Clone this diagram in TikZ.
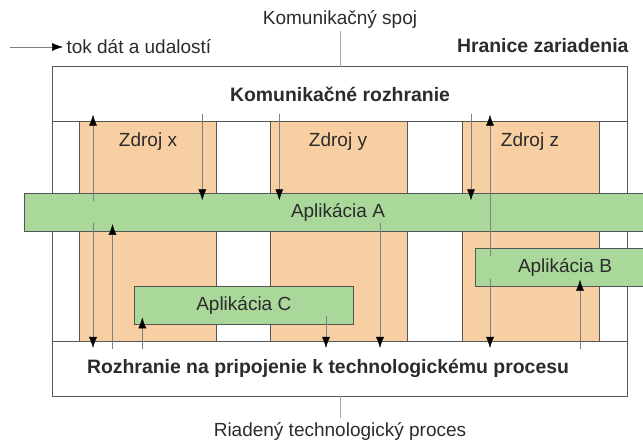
\documentclass[tikz,border=0pt]{standalone}
\usepackage{fontspec}
\setmainfont{Liberation Sans}
\usetikzlibrary{arrows.meta}

\definecolor{zdrojfill}{HTML}{F8CFA2}
\definecolor{appfill}{HTML}{AAD89B}
\definecolor{edgegray}{HTML}{555555}
\definecolor{textgray}{HTML}{2B2B2B}

\begin{document}
\begin{tikzpicture}[x=1pt, y=-1pt]

\tikzset{frame/.style = {draw=edgegray, line width=0.9pt, fill=white, inner sep=0pt, outer sep=0pt}}
\tikzset{zdroj/.style = {draw=edgegray, line width=0.9pt, fill=zdrojfill, inner sep=0pt, outer sep=0pt}}
\tikzset{app/.style = {draw=edgegray, line width=0.9pt, fill=appfill, inner sep=0pt, outer sep=0pt}}
\tikzset{txt/.style = {font=\fontsize{19}{22}\selectfont, text=textgray}}
\tikzset{bold/.style = {font=\fontsize{19.4}{22}\selectfont\bfseries, text=textgray}}
\tikzset{flow/.style = {->, > = {Latex[length=11pt,width=8pt,color=black]}, draw=gray, line width=0.5pt, shorten >=-7pt, shorten <=-8pt}}
\tikzset{link/.style = {draw=gray!70, line width=0.6pt}}

\useasboundingbox (0,0) rectangle (643,443);

% hranice zariadenia
\node[frame, minimum width=575.4pt, minimum height=329.3pt] (hranica) at (340,231.35) {};
\node[frame, bold, minimum width=575.4pt, minimum height=55pt] (komroz) at (340,94.2) {Komunikačné rozhranie};
\node[frame, minimum width=575.4pt, minimum height=55pt] (procroz) at (340,368.5) {};
\node[bold] (procrozl) at (328,368.5) {Rozhranie na pripojenie k technologickému procesu};

% zdroje
\node[zdroj, minimum width=137.4pt, minimum height=219.3pt] (zx) at (148,231.35) {};
\node[zdroj, minimum width=137pt, minimum height=219.3pt] (zy) at (339.2,231.35) {};
\node[zdroj, minimum width=136.8pt, minimum height=219.3pt] (zz) at (531.1,231.35) {};
\node[txt] (zxl) at (148,142) {Zdroj x};
\node[txt] (zyl) at (338,142) {Zdroj y};
\node[txt] (zzl) at (530,142) {Zdroj z};

% aplikacie
\node[app, minimum width=635.7pt, minimum height=37.7pt] (apa) at (342.15,212.15) {};
\node[txt] (apal) at (338,212) {Aplikácia A};
\node[app, minimum width=184.3pt, minimum height=38.4pt] (apb) at (567.85,267.5) {};
\node[txt] (apbl) at (565,267) {Aplikácia B};
\node[app, txt, minimum width=219pt, minimum height=37.6pt] (apc) at (243.8,305.5) {Aplikácia C};

% stlpce tokov
\coordinate (c1) at (93,0);
\coordinate (c2) at (112.5,0);
\coordinate (c3) at (142.3,0);
\coordinate (c4) at (202.3,0);
\coordinate (c5) at (279.3,0);
\coordinate (c6) at (326,0);
\coordinate (c7) at (380,0);
\coordinate (c8) at (471,0);
\coordinate (c9) at (490,0);
\coordinate (c10) at (580,0);

% toky
\draw[flow] (apa.north -| c1) -- (komroz.south -| c1);
\draw[flow] (apa.south -| c1) -- (procroz.north -| c1);
\draw[flow] (procroz.north -| c2) -- (apa.south -| c2);
\draw[flow] (procroz.north -| c3) -- (apc.south -| c3);
\draw[flow] (komroz.south -| c4) -- (apa.north -| c4);
\draw[flow] (komroz.south -| c5) -- (apa.north -| c5);
\draw[flow] (apc.south -| c6) -- (procroz.north -| c6);
\draw[flow] (apa.south -| c7) -- (procroz.north -| c7);
\draw[flow] (komroz.south -| c8) -- (apa.north -| c8);
\draw[flow] (apb.north -| c9) -- (komroz.south -| c9);
\draw[flow] (apb.south -| c9) -- (procroz.north -| c9);
\draw[flow] (procroz.north -| c10) -- (apb.south -| c10);

% legenda
\coordinate (legstart) at (10,47);
\node[txt, anchor=west] (legtext) at (63,47) {tok dát a udalostí};
\draw[flow, shorten >=0pt, shorten <=0pt] (legstart) -- (legtext.west);
\node[bold, anchor=east] (hranl) at (632,46) {Hranice zariadenia};

% spoj a proces
\node[txt] (spoj) at (340,19) {Komunikačný spoj};
\draw[link] (spoj.south) -- (hranica.north);
\node[txt] (proces) at (340,431) {Riadený technologický proces};
\draw[link] (hranica.south) -- (proces.north);

\end{tikzpicture}
\end{document}
